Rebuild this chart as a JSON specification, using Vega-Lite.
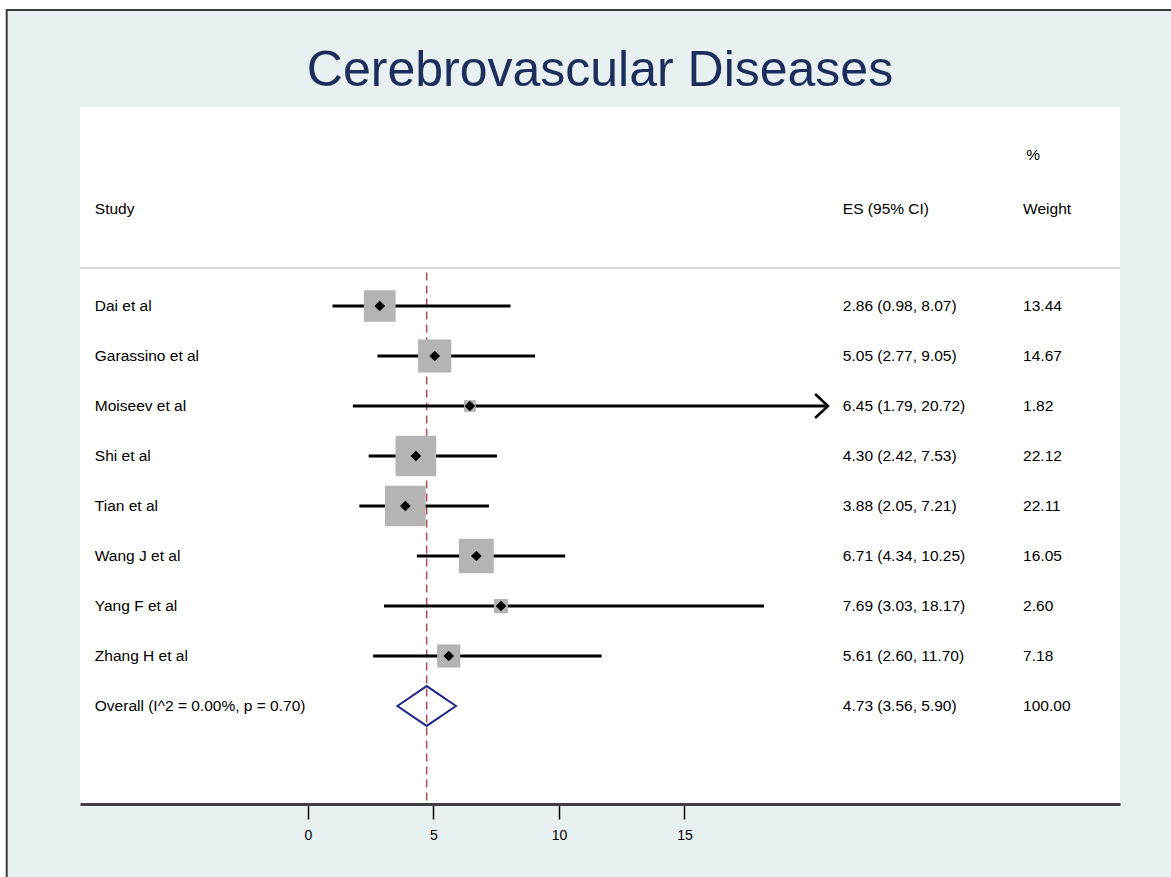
{
  "$schema": "https://vega.github.io/schema/vega-lite/v6.json",
  "width": 1040,
  "height": 697,
  "autosize": {"type": "none"},
  "padding": {"left": 80, "top": 107, "right": 51, "bottom": 73},
  "background": "#ffffff",
  "config": {
    "view": {"stroke": null},
    "font": "Liberation Sans",
    "text": {"font": "Liberation Sans", "fontSize": 15.5, "color": "#000000"}
  },
  "title": {
    "text": "Cerebrovascular Diseases",
    "font": "Liberation Sans",
    "fontSize": 50,
    "fontWeight": "normal",
    "color": "#1e2d5a",
    "anchor": "middle",
    "frame": "group",
    "baseline": "alphabetic",
    "offset": -127
  },
  "datasets": {
    "studies": [
      {"study": "Dai et al", "kind": "study", "row": 1, "es": 2.86, "lo": 0.98, "hi": 8.07, "weight": 13.44, "ci": "2.86 (0.98, 8.07)"},
      {"study": "Garassino et al", "kind": "study", "row": 2, "es": 5.05, "lo": 2.77, "hi": 9.05, "weight": 14.67, "ci": "5.05 (2.77, 9.05)"},
      {"study": "Moiseev et al", "kind": "study", "row": 3, "es": 6.45, "lo": 1.79, "hi": 20.72, "weight": 1.82, "ci": "6.45 (1.79, 20.72)"},
      {"study": "Shi et al", "kind": "study", "row": 4, "es": 4.30, "lo": 2.42, "hi": 7.53, "weight": 22.12, "ci": "4.30 (2.42, 7.53)"},
      {"study": "Tian et al", "kind": "study", "row": 5, "es": 3.88, "lo": 2.05, "hi": 7.21, "weight": 22.11, "ci": "3.88 (2.05, 7.21)"},
      {"study": "Wang J et al", "kind": "study", "row": 6, "es": 6.71, "lo": 4.34, "hi": 10.25, "weight": 16.05, "ci": "6.71 (4.34, 10.25)"},
      {"study": "Yang F et al", "kind": "study", "row": 7, "es": 7.69, "lo": 3.03, "hi": 18.17, "weight": 2.60, "ci": "7.69 (3.03, 18.17)"},
      {"study": "Zhang H et al", "kind": "study", "row": 8, "es": 5.61, "lo": 2.60, "hi": 11.70, "weight": 7.18, "ci": "5.61 (2.60, 11.70)"},
      {"study": "Overall  (I^2 = 0.00%, p = 0.70)", "kind": "overall", "row": 9, "es": 4.73, "lo": 3.56, "hi": 5.90, "weight": 100.00, "ci": "4.73 (3.56, 5.90)"}
    ]
  },
  "layer": [
    {
      "description": "outer frame and tinted backdrop",
      "data": {"values": [{}]},
      "mark": {"type": "rect", "fill": "#e8f0f2", "stroke": "#3a3a3a", "strokeWidth": 2, "clip": false},
      "encoding": {
        "x": {"datum": -12, "type": "quantitative", "scale": {"domain": [-9.08, 32.35], "nice": false, "zero": false}},
        "x2": {"datum": 40},
        "y": {"datum": -4.92, "type": "quantitative", "scale": {"domain": [-2.98, 10.96], "nice": false, "zero": false, "reverse": true}, "axis": null},
        "y2": {"datum": 14}
      }
    },
    {
      "description": "white plot panel",
      "data": {"values": [{}]},
      "mark": {"type": "rect", "fill": "#ffffff"},
      "encoding": {
        "x": {"datum": -9.08, "type": "quantitative"},
        "x2": {"datum": 32.35},
        "y": {"datum": -2.98, "type": "quantitative", "axis": null},
        "y2": {"datum": 10.96}
      }
    },
    {
      "description": "header separator",
      "data": {"values": [{}]},
      "mark": {"type": "rule", "color": "#c8c8c8", "strokeWidth": 1.5},
      "encoding": {"y": {"datum": 0.24, "type": "quantitative", "axis": null}}
    },
    {
      "description": "column headers",
      "data": {"values": [{}]},
      "mark": {"type": "text", "align": "left", "baseline": "middle"},
      "encoding": {
        "x": {"datum": -8.49, "type": "quantitative"},
        "y": {"datum": -0.94, "type": "quantitative", "axis": null},
        "text": {"value": "Study"}
      }
    },
    {
      "data": {"values": [{}]},
      "mark": {"type": "text", "align": "left", "baseline": "middle"},
      "encoding": {
        "x": {"datum": 21.31, "type": "quantitative"},
        "y": {"datum": -0.94, "type": "quantitative", "axis": null},
        "text": {"value": "ES (95% CI)"}
      }
    },
    {
      "data": {"values": [{}]},
      "mark": {"type": "text", "align": "left", "baseline": "middle"},
      "encoding": {
        "x": {"datum": 28.49, "type": "quantitative"},
        "y": {"datum": -0.94, "type": "quantitative", "axis": null},
        "text": {"value": "Weight"}
      }
    },
    {
      "data": {"values": [{}]},
      "mark": {"type": "text", "align": "left", "baseline": "middle"},
      "encoding": {
        "x": {"datum": 28.62, "type": "quantitative"},
        "y": {"datum": -2.02, "type": "quantitative", "axis": null},
        "text": {"value": "%"}
      }
    },
    {
      "description": "pooled estimate reference line",
      "data": {"name": "studies"},
      "transform": [{"filter": "datum.kind === 'overall'"}],
      "mark": {"type": "rule", "color": "#b04a55", "strokeWidth": 1.5, "strokeDash": [8, 5]},
      "encoding": {
        "x": {"field": "es", "type": "quantitative"},
        "y": {"datum": 0.33, "type": "quantitative", "axis": null},
        "y2": {"datum": 10.96}
      }
    },
    {
      "description": "confidence intervals",
      "data": {"name": "studies"},
      "transform": [{"filter": "datum.kind === 'study'"}],
      "mark": {"type": "rule", "color": "#000000", "strokeWidth": 3},
      "encoding": {
        "x": {
          "field": "lo",
          "type": "quantitative",
          "axis": {
            "title": null,
            "zindex": 1,
            "values": [0, 5, 10, 15],
            "grid": false,
            "domainColor": "#404040",
            "domainWidth": 3,
            "tickColor": "#000000",
            "tickWidth": 1.5,
            "tickSize": 15,
            "labelFont": "Liberation Sans",
            "labelFontSize": 14,
            "labelColor": "#000000",
            "labelPadding": 9
          }
        },
        "x2": {"field": "hi"},
        "y": {"field": "row", "type": "quantitative", "axis": null}
      }
    },
    {
      "description": "weight boxes",
      "data": {"name": "studies"},
      "transform": [{"filter": "datum.kind === 'study'"}],
      "mark": {"type": "square", "color": "#b4b4b4", "opacity": 1, "filled": true},
      "encoding": {
        "x": {"field": "es", "type": "quantitative"},
        "y": {"field": "row", "type": "quantitative", "axis": null},
        "size": {"field": "weight", "type": "quantitative", "scale": {"type": "linear", "domain": [0, 100], "range": [0, 7500], "zero": true}, "legend": null}
      }
    },
    {
      "description": "point estimates",
      "data": {"name": "studies"},
      "transform": [{"filter": "datum.kind === 'study'"}],
      "mark": {"type": "point", "shape": "diamond", "filled": true, "color": "#000000", "opacity": 1, "size": 115},
      "encoding": {
        "x": {"field": "es", "type": "quantitative"},
        "y": {"field": "row", "type": "quantitative", "axis": null}
      }
    },
    {
      "description": "arrow where the interval runs past the plotted range",
      "data": {"name": "studies"},
      "transform": [{"filter": "datum.kind === 'study' && datum.hi > 20"}],
      "mark": {"type": "point", "shape": "M-1.08,-1L0,0L-1.08,1", "filled": false, "color": "#000000", "strokeWidth": 2.5, "opacity": 1, "size": 576},
      "encoding": {
        "x": {"field": "hi", "type": "quantitative"},
        "y": {"field": "row", "type": "quantitative", "axis": null}
      }
    },
    {
      "description": "pooled estimate diamond",
      "data": {"name": "studies"},
      "transform": [{"filter": "datum.kind === 'overall'"}],
      "mark": {"type": "point", "shape": "M-1,0L0,-0.68L1,0L0,0.68Z", "filled": false, "color": "#1f2a8a", "strokeWidth": 2, "opacity": 1, "size": 3434},
      "encoding": {
        "x": {"field": "es", "type": "quantitative"},
        "y": {"field": "row", "type": "quantitative", "axis": null}
      }
    },
    {
      "description": "study labels",
      "data": {"name": "studies"},
      "mark": {"type": "text", "align": "left", "baseline": "middle"},
      "encoding": {
        "x": {"datum": -8.49, "type": "quantitative"},
        "y": {"field": "row", "type": "quantitative", "axis": null},
        "text": {"field": "study"}
      }
    },
    {
      "description": "effect sizes with intervals",
      "data": {"name": "studies"},
      "mark": {"type": "text", "align": "left", "baseline": "middle"},
      "encoding": {
        "x": {"datum": 21.31, "type": "quantitative"},
        "y": {"field": "row", "type": "quantitative", "axis": null},
        "text": {"field": "ci"}
      }
    },
    {
      "description": "weights",
      "data": {"name": "studies"},
      "mark": {"type": "text", "align": "left", "baseline": "middle"},
      "encoding": {
        "x": {"datum": 28.49, "type": "quantitative"},
        "y": {"field": "row", "type": "quantitative", "axis": null},
        "text": {"field": "weight", "type": "quantitative", "format": ".2f"}
      }
    }
  ]
}
